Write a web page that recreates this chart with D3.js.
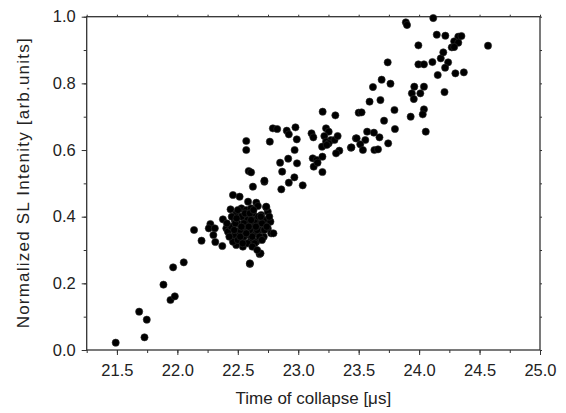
<!DOCTYPE html>
<html>
<head>
<meta charset="utf-8">
<script src="https://cdn.jsdelivr.net/npm/d3@7"></script>
<style>
  body { margin: 0; background: #fff; }
  svg { font-family: "Liberation Sans", Arial, sans-serif; }
</style>
</head>
<body>
<svg id="chart" width="566" height="413"></svg>
<script>
// collapse time [us] / normalized SL intensity
const timeVals = [
  21.49, 21.684, 21.728, 21.747, 21.885, 21.943, 21.979, 21.965, 22.053, 22.60, 22.68,
  22.138, 22.20, 22.273, 22.26, 22.31, 22.298, 22.314, 22.372, 22.377, 22.405, 22.418,
  22.46, 22.515, 22.625, 22.72, 22.585, 22.653, 22.666, 22.44, 22.487, 22.53, 22.57,
  22.61, 22.625, 22.694, 22.72, 22.77, 22.748, 22.776, 22.715, 22.653, 22.61, 22.542,
  22.487, 22.46, 22.474, 22.515, 22.556, 22.597, 22.64, 22.68, 22.5, 22.556, 22.61,
  22.666, 22.53, 22.585, 22.474, 22.446, 22.57, 22.625, 22.688, 22.6, 22.54, 22.748,
  22.41, 22.735, 22.795, 22.735,
  22.45, 22.48, 22.52, 22.55, 22.58, 22.6, 22.62, 22.64, 22.66, 22.68, 22.7, 22.72,
  22.5, 22.53, 22.56, 22.6, 22.63, 22.67, 22.55, 22.58, 22.64, 22.7, 22.74, 22.76,
  22.5, 22.47, 22.43, 22.52, 22.59, 22.61, 22.65, 22.69, 22.57, 22.54, 22.62, 22.66,
  22.49, 22.53,
  22.57, 22.57, 22.59, 22.61,
  23.202, 23.307, 23.5, 22.79, 22.826, 22.905, 22.922, 22.977, 22.988, 23.11, 23.125,
  23.23, 23.252, 23.216, 23.27, 23.23, 23.3, 23.326, 23.197, 23.34, 23.313, 23.436,
  23.477, 22.765, 22.97, 22.917, 22.85, 22.99, 23.12, 23.153, 23.2, 23.128, 23.16,
  23.2, 22.867, 22.968, 22.922, 22.86, 23.037, 22.72, 23.252, 23.236,
  23.74, 23.994, 24.04, 24.11, 24.179, 24.2, 24.24, 24.215, 24.154, 24.3, 24.37,
  23.69, 23.763, 23.618, 23.59, 23.68, 23.524, 23.96, 24.04, 23.94, 24.01, 23.956,
  24.21, 23.796, 24.04, 24.03, 23.93, 23.71, 23.8, 24.055, 23.57, 23.626, 23.672,
  23.483, 23.555, 23.513, 23.44, 23.535, 23.63, 23.66, 23.744,
  24.117, 24.146, 24.217, 24.324, 24.35, 24.29, 24.324, 24.27, 24.29, 24.57, 23.994,
  23.89, 23.9
];
const slVals = [
  0.022, 0.115, 0.038, 0.091, 0.196, 0.150, 0.161, 0.248, 0.263, 0.258, 0.288,
  0.36, 0.328, 0.378, 0.365, 0.365, 0.345, 0.324, 0.312, 0.392, 0.365, 0.355,
  0.465, 0.46, 0.49, 0.505, 0.445, 0.442, 0.432, 0.422, 0.41, 0.425, 0.42,
  0.425, 0.41, 0.405, 0.39, 0.385, 0.365, 0.35, 0.34, 0.325, 0.33, 0.31,
  0.315, 0.325, 0.345, 0.355, 0.355, 0.345, 0.35, 0.36, 0.38, 0.385, 0.38,
  0.38, 0.40, 0.40, 0.39, 0.37, 0.37, 0.365, 0.29, 0.26, 0.328, 0.415,
  0.38, 0.428, 0.35, 0.43,
  0.40, 0.38, 0.36, 0.34, 0.39, 0.36, 0.34, 0.39, 0.36, 0.34, 0.38, 0.36,
  0.33, 0.40, 0.41, 0.41, 0.42, 0.40, 0.38, 0.32, 0.32, 0.33, 0.37, 0.40,
  0.42, 0.36, 0.34, 0.34, 0.37, 0.39, 0.37, 0.40, 0.35, 0.32, 0.31, 0.30,
  0.395, 0.37,
  0.627, 0.60, 0.537, 0.533,
  0.715, 0.704, 0.712, 0.665, 0.663, 0.658, 0.647, 0.668, 0.632, 0.65, 0.638,
  0.665, 0.655, 0.642, 0.63, 0.625, 0.63, 0.642, 0.61, 0.598, 0.59, 0.607,
  0.635, 0.625, 0.60, 0.574, 0.562, 0.56, 0.575, 0.57, 0.58, 0.55, 0.562,
  0.534, 0.535, 0.518, 0.502, 0.482, 0.494, 0.508, 0.62, 0.615,
  0.863, 0.857, 0.857, 0.864, 0.875, 0.893, 0.863, 0.847, 0.825, 0.83, 0.833,
  0.811, 0.799, 0.789, 0.745, 0.75, 0.713, 0.79, 0.79, 0.77, 0.77, 0.753,
  0.774, 0.72, 0.722, 0.707, 0.70, 0.688, 0.663, 0.655, 0.655, 0.652, 0.638,
  0.635, 0.63, 0.617, 0.608, 0.60, 0.60, 0.602, 0.62,
  0.996, 0.946, 0.943, 0.94, 0.942, 0.926, 0.922, 0.908, 0.909, 0.913, 0.914,
  0.983, 0.975
];
const xTicks = [21.5, 22.0, 22.5, 23.0, 23.5, 24.0, 24.5, 25.0];
const yTicks = [0.0, 0.2, 0.4, 0.6, 0.8, 1.0];

const margin = {top: 16.7, right: 26, bottom: 63, left: 86.7};
const W = 566, H = 413;
const svg = d3.select("#chart");

const x = d3.scaleLinear().domain([21.25, 25.0]).range([margin.left, W - margin.right]);
const y = d3.scaleLinear().domain([0, 1]).range([H - margin.bottom, margin.top]);

const xMinor = d3.range(21.25, 25.001, 0.25);
const yMinor = d3.range(0, 1.001, 0.1);

function styleAxis(g) {
  g.select(".domain").remove();
  g.selectAll("line").attr("stroke", "#333").attr("stroke-width", 1);
  g.selectAll("text").attr("fill", "#222").attr("font-size", 16.5);
}

// bottom axis
svg.append("g").attr("transform", `translate(0,${H - margin.bottom})`)
  .call(d3.axisBottom(x).tickValues(xMinor).tickSize(3).tickFormat(""))
  .call(styleAxis);
svg.append("g").attr("transform", `translate(0,${H - margin.bottom})`)
  .call(d3.axisBottom(x).tickValues(xTicks).tickSize(5).tickPadding(9).tickFormat(d3.format(".1f")))
  .call(styleAxis);

// left axis
svg.append("g").attr("transform", `translate(${margin.left},0)`)
  .call(d3.axisLeft(y).tickValues(yMinor).tickSize(3).tickFormat(""))
  .call(styleAxis);
svg.append("g").attr("transform", `translate(${margin.left},0)`)
  .call(d3.axisLeft(y).tickValues(yTicks).tickSize(5).tickPadding(6).tickFormat(d3.format(".1f")))
  .call(styleAxis);

// top and right mirror ticks
svg.append("g").attr("transform", `translate(0,${margin.top})`)
  .call(d3.axisTop(x).tickValues(xMinor).tickSize(2).tickFormat(""))
  .call(styleAxis);
svg.append("g").attr("transform", `translate(${W - margin.right},0)`)
  .call(d3.axisRight(y).tickValues(yMinor).tickSize(2).tickFormat(""))
  .call(styleAxis);

// frame
svg.append("rect")
  .attr("x", margin.left).attr("y", margin.top)
  .attr("width", W - margin.left - margin.right)
  .attr("height", H - margin.top - margin.bottom)
  .attr("fill", "none").attr("stroke", "#333").attr("stroke-width", 1.3);

// points
const pts = timeVals.map((t, i) => ({t: t, v: slVals[i]}));
svg.append("g").selectAll("circle")
  .data(pts)
  .enter()
  .append("circle")
  .attr("cx", d => x(d.t))
  .attr("cy", d => y(d.v))
  .attr("r", 3.6)
  .attr("fill", "#000")
  .attr("stroke", "#2a2a2a")
  .attr("stroke-width", 0.6);

// axis titles
svg.append("text")
  .attr("x", (margin.left + W - margin.right) / 2)
  .attr("y", 404)
  .attr("text-anchor", "middle")
  .attr("font-size", 17)
  .attr("fill", "#222")
  .text("Time of collapse [μs]");

svg.append("text")
  .attr("transform", `translate(29,${(margin.top + H - margin.bottom) / 2}) rotate(-90)`)
  .attr("text-anchor", "middle")
  .attr("font-size", 17)
  .attr("textLength", 290)
  .attr("lengthAdjust", "spacing")
  .attr("fill", "#222")
  .text("Normalized SL Intenity [arb.units]");
</script>
</body>
</html>
